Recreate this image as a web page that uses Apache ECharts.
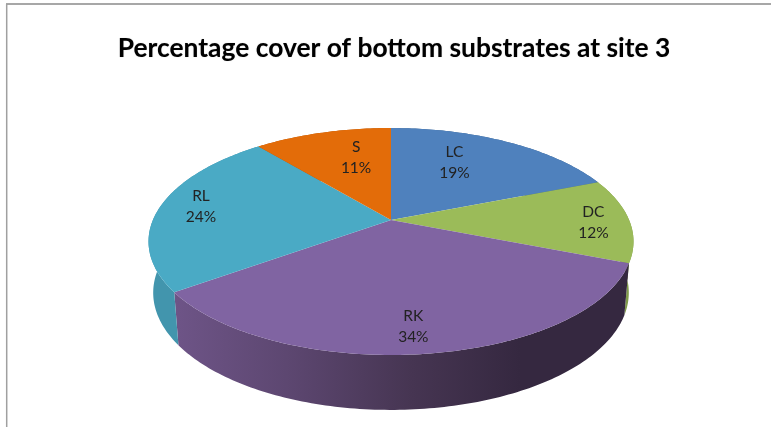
<!DOCTYPE html>
<html><head><meta charset="utf-8">
<style>html,body{margin:0;padding:0;background:#fff}#c{width:771px;height:427px}</style>
<script src="https://cdn.jsdelivr.net/npm/echarts@6/dist/echarts.min.js"></script></head>
<body><div id="c"></div>
<script>
const categories = ['LC', 'DC', 'RK', 'RL', 'S'];
const values = [19, 12, 34, 24, 11];
const titleText = 'Percentage cover of bottom substrates at site 3';
const topColors = ['#4f81bd', '#9bbb59', '#8064a2', '#4aaac5', '#e36c09'];
const wallColors = ['#3d648f', '#7f9a49', null, '#4295ad', '#b05508'];
const labelRadius = [0.6, 0.85, 0.83, 0.82, 0.68];
const labelNudge = [[-10, -8], [0, 2], [-7, 0], [0, -2], [14, 0]];

const total = values.reduce((a, b) => a + b, 0);
const view = { cx: 391, top: { y0: 220, S: 109.4, R: 238.1 }, low: { y0: 270.5, S: 113, R: 233.5 }, p: 0.1894 };
function project(disk, deg, r) {
  const a = deg * Math.PI / 180, X = r * Math.sin(a), Y = -r * Math.cos(a), w = 1 - view.p * Y;
  return [view.cx + disk.R * X / w, disk.y0 + disk.S * Y / w];
}
function arc(disk, a0, a1) {
  const pts = [], n = Math.max(2, Math.ceil(Math.abs(a1 - a0)));
  for (let i = 0; i <= n; i++) pts.push(project(disk, a0 + (a1 - a0) * i / n, 1));
  return pts;
}
const wallGradient = new echarts.graphic.LinearGradient(160, 0, 520, 0, [
  { offset: 0, color: '#70568a' }, { offset: 0.35, color: '#5d4771' },
  { offset: 0.7, color: '#463552' }, { offset: 1, color: '#352840' }
], true);

function renderItem(params, api) {
  const i = params.dataIndex;
  let before = 0;
  for (let k = 0; k < i; k++) before += values[k];
  const a0 = before / total * 360, a1 = (before + api.value(0)) / total * 360, mid = (a0 + a1) / 2;
  const rimTop = arc(view.top, a0, a1), rimLow = arc(view.low, a1, a0);
  const anchor = project(view.top, mid, labelRadius[i]);
  return { type: 'group', children: [
    { type: 'polygon', z2: 1, shape: { points: rimTop.concat(rimLow) },
      style: { fill: wallColors[i] || wallGradient } },
    { type: 'polygon', z2: 10, shape: { points: [[view.cx, view.top.y0]].concat(rimTop) },
      style: { fill: topColors[i] } },
    { type: 'text', z2: 20, x: anchor[0] + labelNudge[i][0], y: anchor[1] + labelNudge[i][1],
      style: { text: categories[i] + '\n' + api.value(0) + '%', fill: '#222222', align: 'center',
        verticalAlign: 'middle', font: '15.5px Lato', lineHeight: 21 } }
  ] };
}

const chart = echarts.init(document.getElementById('c'), null, { renderer: 'canvas' });
chart.setOption({
  animation: false,
  backgroundColor: '#ffffff',
  title: { text: titleText, left: 389, top: 30, textAlign: 'center',
    textStyle: { fontFamily: 'Lato', fontSize: 26.4, fontWeight: 'bold', color: '#000',
      textShadowColor: 'rgba(0,0,0,0.25)', textShadowBlur: 1 } },
  graphic: [
    { type: 'line', shape: { x1: 6, y1: 4, x2: 771, y2: 4 }, style: { stroke: '#8a8a8a', lineWidth: 1.5 } },
    { type: 'line', shape: { x1: 6.7, y1: 4, x2: 6.7, y2: 427 }, style: { stroke: '#a0a0a0', lineWidth: 1.5 } }
  ],
  xAxis: { show: false, min: 0, max: 1 }, yAxis: { show: false, min: 0, max: 1 },
  series: [{ type: 'custom', coordinateSystem: 'none', renderItem,
    data: values.map((v, i) => ({ name: categories[i], value: [v] })) }]
});
</script></body></html>
